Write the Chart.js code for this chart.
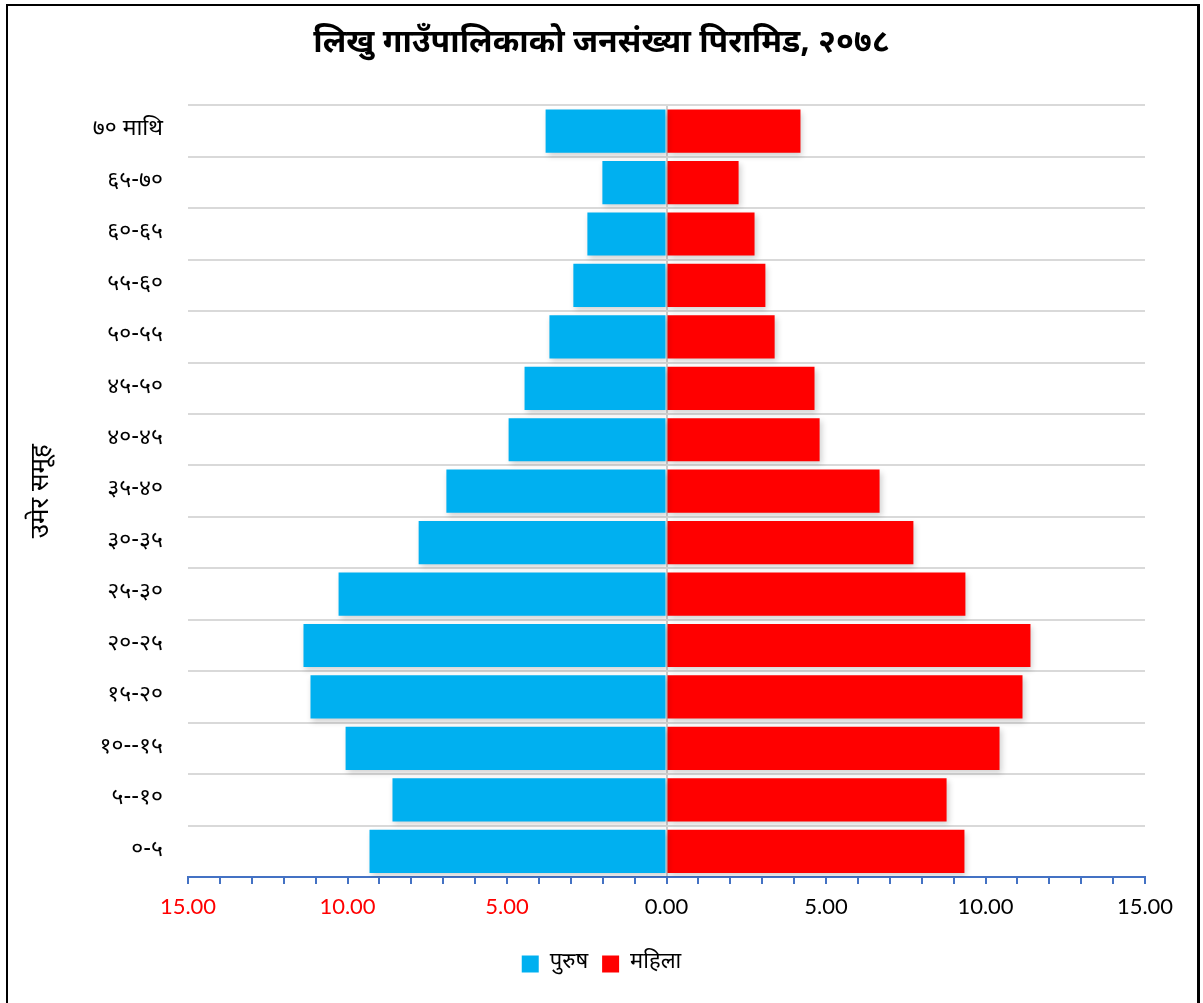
<!DOCTYPE html>
<html>
<head>
<meta charset="utf-8">
<script src="https://cdn.jsdelivr.net/npm/chart.js@4/dist/chart.umd.min.js"></script>
<style>
  html, body { margin: 0; padding: 0; background: #fff; }
  #wrap { position: relative; width: 1203px; height: 1003px; }
  #frame { position: absolute; left: 6px; top: 4px; width: 1194px; height: 1010px; border: 2px solid #000; border-right-width: 3px; box-sizing: border-box; pointer-events: none; }
  canvas { position: absolute; left: 0; top: 0; }
</style>
</head>
<body>
<div id="wrap">
  <canvas id="c" width="1203" height="1003"></canvas>
  <div id="frame"></div>
</div>
<script>
const chartTitle = 'लिखु गाउँपालिकाको जनसंख्या पिरामिड, २०७८';
const axisTitle = 'उमेर समूह';
const ageGroups = ['०-५', '५--१०', '१०--१५', '१५-२०', '२०-२५', '२५-३०', '३०-३५', '३५-४०', '४०-४५', '४५-५०', '५०-५५', '५५-६०', '६०-६५', '६५-७०', '७० माथि'];
const seriesNames = ['पुरुष', 'महिला'];
const male = [9.31, 8.59, 10.06, 11.16, 11.38, 10.28, 7.77, 6.90, 4.95, 4.45, 3.67, 2.92, 2.48, 2.01, 3.79];
const female = [9.34, 8.78, 10.44, 11.16, 11.41, 9.37, 7.74, 6.68, 4.80, 4.64, 3.39, 3.10, 2.76, 2.26, 4.20];
const xMin = -15, xMax = 15, majorStep = 5, minorStep = 1;

const shadowPlugin = {
  id: 'barShadow',
  beforeDatasetsDraw(chart) {
    const ctx = chart.ctx;
    ctx.save();
    ctx.shadowColor = 'rgba(0,0,0,0.18)';
    ctx.shadowBlur = 6;
    ctx.shadowOffsetX = 2;
    ctx.shadowOffsetY = 3;
  },
  afterDatasetsDraw(chart) { chart.ctx.restore(); }
};

const devFont = "'Noto Sans Devanagari', 'Noto Sans', 'Lohit Devanagari', 'FreeSans', sans-serif";

new Chart(document.getElementById('c'), {
  type: 'bar',
  data: {
    labels: ageGroups,
    datasets: [
      { label: seriesNames[0], data: male.map(v => -v), backgroundColor: '#00B0F0', barPercentage: 0.84, categoryPercentage: 1 },
      { label: seriesNames[1], data: female, backgroundColor: '#FF0000', barPercentage: 0.84, categoryPercentage: 1 }
    ]
  },
  plugins: [shadowPlugin],
  options: {
    responsive: false,
    animation: false,
    indexAxis: 'y',
    layout: { padding: { left: 8, right: 8, top: 0, bottom: 18 } },
    plugins: {
      title: {
        display: true, text: chartTitle, color: '#000',
        font: { family: devFont, size: 32, weight: 'bold' },
        padding: { top: 27, bottom: 40 }
      },
      legend: {
        position: 'bottom',
        labels: {
          color: '#000', boxWidth: 17, boxHeight: 17, padding: 14,
          font: { family: devFont, size: 22 }
        }
      },
      tooltip: { enabled: false }
    },
    scales: {
      x: {
        stacked: true, min: xMin, max: xMax,
        afterBuildTicks(scale) {
          const t = [];
          for (let v = xMin; v <= xMax; v += minorStep) t.push({ value: v });
          scale.ticks = t;
        },
        afterFit(scale) { scale.height = 62; },
        border: { display: true, color: '#4472C4', width: 2 },
        grid: {
          drawOnChartArea: true,
          color: c => (c.tick && c.tick.value === 0) ? '#d0d0d0' : 'rgba(0,0,0,0)',
          lineWidth: 2,
          tickColor: '#4472C4', tickLength: 7, tickWidth: 2
        },
        ticks: {
          autoSkip: false, maxRotation: 0, padding: 10,
          font: { family: "Lato, 'Open Sans', sans-serif", size: 22 },
          color: c => (c.tick && c.tick.value < 0) ? '#FF0000' : '#000',
          callback: v => (v % majorStep === 0) ? Math.abs(v).toFixed(2) : ''
        }
      },
      y: {
        stacked: true, reverse: true,
        afterFit(scale) { scale.width = 180; },
        border: { display: false },
        grid: { color: '#d9d9d9', lineWidth: 2, drawTicks: false, offset: true },
        ticks: { padding: 25, color: '#000', font: { family: devFont, size: 23 } },
        title: {
          display: true, text: axisTitle, color: '#000',
          font: { family: devFont, size: 26 }, padding: { top: 20, bottom: 0 }
        }
      },
      yRight: {
        type: 'linear', position: 'right', display: true,
        afterFit(scale) { scale.width = 50; },
        border: { display: false },
        grid: { display: false },
        ticks: { display: false }
      }
    }
  }
});
</script>
</body>
</html>
